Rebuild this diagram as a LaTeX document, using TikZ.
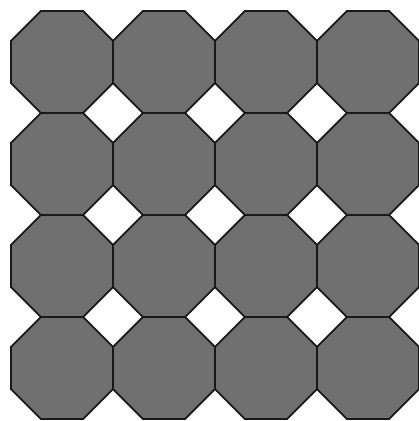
\documentclass[tikz,border=0pt]{standalone}
\definecolor{tile}{RGB}{112,112,112}
\definecolor{edge}{RGB}{25,25,25}
\tikzset{oct/.style={fill=tile,draw=edge,line width=1.7pt,line join=miter}}
\begin{document}
\begin{tikzpicture}[x=1pt,y=-1pt]
\useasboundingbox (0,0) rectangle (419,421);
\fill[white] (0,0) rectangle (419,421);
\clip (0,0) rectangle (419,421);
\pgfmathsetmacro{\P}{102}
\pgfmathsetmacro{\C}{\P/(2+sqrt(2))}
\foreach \i in {0,...,3}{
  \foreach \j in {0,...,3}{
    \pgfmathsetmacro{\X}{11+\i*\P}
    \pgfmathsetmacro{\Y}{11+\j*\P}
    \draw[oct] (\X+\C,\Y) -- (\X+\P-\C,\Y) -- (\X+\P,\Y+\C) -- (\X+\P,\Y+\P-\C)
      -- (\X+\P-\C,\Y+\P) -- (\X+\C,\Y+\P) -- (\X,\Y+\P-\C) -- (\X,\Y+\C) -- cycle;
  }
}
\end{tikzpicture}
\end{document}
